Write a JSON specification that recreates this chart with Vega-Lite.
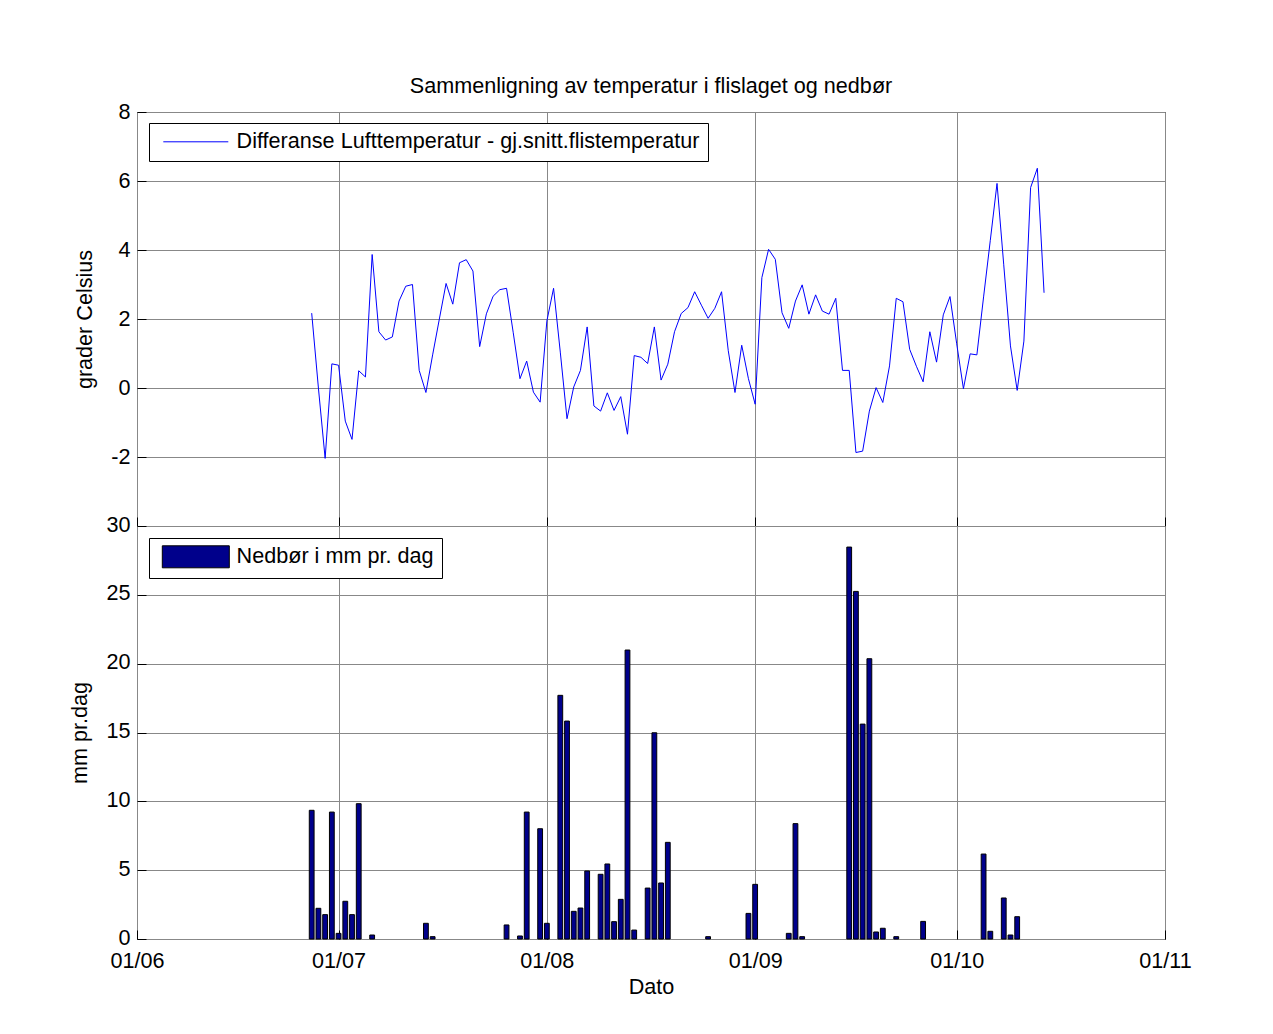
{
  "$schema": "https://vega.github.io/schema/vega-lite/v6.json",
  "background": "white",
  "autosize": {"type": "pad"},
  "padding": {"left": 69, "top": 75, "right": 10, "bottom": 10},
  "title": {"text": "Sammenligning av temperatur i flislaget og nedbør", "font": "Liberation Sans", "fontSize": 21.6, "fontWeight": "normal", "color": "black", "anchor": "middle", "frame": "group", "offset": 3},
  "config": {
    "font": "Liberation Sans",
    "view": {"stroke": "black", "strokeWidth": 1},
    "axis": {"labelFont": "Liberation Sans", "labelFontSize": 21.6, "labelColor": "black", "titleFont": "Liberation Sans", "titleFontSize": 21.6, "titleFontWeight": "normal", "titleColor": "black", "gridColor": "#888888", "gridWidth": 1, "gridOpacity": 1, "domain": false, "ticks": true, "tickSize": -9, "tickColor": "black", "tickWidth": 1}
  },
  "spacing": 0,
  "bounds": "flush",
  "datasets": {
    "temp": [
      {"date": "2010-06-27", "diff": 2.17}, {"date": "2010-06-28", "diff": 0.0}, {"date": "2010-06-29", "diff": -2.04}, {"date": "2010-06-30", "diff": 0.70},
      {"date": "2010-07-01", "diff": 0.66}, {"date": "2010-07-02", "diff": -0.96}, {"date": "2010-07-03", "diff": -1.49}, {"date": "2010-07-04", "diff": 0.50},
      {"date": "2010-07-05", "diff": 0.32}, {"date": "2010-07-06", "diff": 3.87}, {"date": "2010-07-07", "diff": 1.63}, {"date": "2010-07-08", "diff": 1.39},
      {"date": "2010-07-09", "diff": 1.48}, {"date": "2010-07-10", "diff": 2.52}, {"date": "2010-07-11", "diff": 2.95}, {"date": "2010-07-12", "diff": 3.00},
      {"date": "2010-07-13", "diff": 0.51}, {"date": "2010-07-14", "diff": -0.13}, {"date": "2010-07-15", "diff": 0.96}, {"date": "2010-07-16", "diff": 2.0},
      {"date": "2010-07-17", "diff": 3.03}, {"date": "2010-07-18", "diff": 2.43}, {"date": "2010-07-19", "diff": 3.63}, {"date": "2010-07-20", "diff": 3.72},
      {"date": "2010-07-21", "diff": 3.39}, {"date": "2010-07-22", "diff": 1.20}, {"date": "2010-07-23", "diff": 2.15}, {"date": "2010-07-24", "diff": 2.66},
      {"date": "2010-07-25", "diff": 2.85}, {"date": "2010-07-26", "diff": 2.89}, {"date": "2010-07-27", "diff": 1.60}, {"date": "2010-07-28", "diff": 0.27},
      {"date": "2010-07-29", "diff": 0.78}, {"date": "2010-07-30", "diff": -0.12}, {"date": "2010-07-31", "diff": -0.41}, {"date": "2010-08-01", "diff": 1.94},
      {"date": "2010-08-02", "diff": 2.89}, {"date": "2010-08-03", "diff": 1.04}, {"date": "2010-08-04", "diff": -0.89}, {"date": "2010-08-05", "diff": 0.03},
      {"date": "2010-08-06", "diff": 0.51}, {"date": "2010-08-07", "diff": 1.77}, {"date": "2010-08-08", "diff": -0.52}, {"date": "2010-08-09", "diff": -0.67},
      {"date": "2010-08-10", "diff": -0.14}, {"date": "2010-08-11", "diff": -0.65}, {"date": "2010-08-12", "diff": -0.25}, {"date": "2010-08-13", "diff": -1.34},
      {"date": "2010-08-14", "diff": 0.94}, {"date": "2010-08-15", "diff": 0.89}, {"date": "2010-08-16", "diff": 0.71}, {"date": "2010-08-17", "diff": 1.77},
      {"date": "2010-08-18", "diff": 0.23}, {"date": "2010-08-19", "diff": 0.69}, {"date": "2010-08-20", "diff": 1.63}, {"date": "2010-08-21", "diff": 2.16},
      {"date": "2010-08-22", "diff": 2.33}, {"date": "2010-08-23", "diff": 2.79}, {"date": "2010-08-24", "diff": 2.40}, {"date": "2010-08-25", "diff": 2.02},
      {"date": "2010-08-26", "diff": 2.31}, {"date": "2010-08-27", "diff": 2.79}, {"date": "2010-08-28", "diff": 1.08}, {"date": "2010-08-29", "diff": -0.13},
      {"date": "2010-08-30", "diff": 1.24}, {"date": "2010-08-31", "diff": 0.27}, {"date": "2010-09-01", "diff": -0.47}, {"date": "2010-09-02", "diff": 3.20},
      {"date": "2010-09-03", "diff": 4.02}, {"date": "2010-09-04", "diff": 3.73}, {"date": "2010-09-05", "diff": 2.18}, {"date": "2010-09-06", "diff": 1.73},
      {"date": "2010-09-07", "diff": 2.52}, {"date": "2010-09-08", "diff": 2.99}, {"date": "2010-09-09", "diff": 2.14}, {"date": "2010-09-10", "diff": 2.70},
      {"date": "2010-09-11", "diff": 2.23}, {"date": "2010-09-12", "diff": 2.14}, {"date": "2010-09-13", "diff": 2.60}, {"date": "2010-09-14", "diff": 0.51},
      {"date": "2010-09-15", "diff": 0.51}, {"date": "2010-09-16", "diff": -1.87}, {"date": "2010-09-17", "diff": -1.83}, {"date": "2010-09-18", "diff": -0.67},
      {"date": "2010-09-19", "diff": 0.01}, {"date": "2010-09-20", "diff": -0.42}, {"date": "2010-09-21", "diff": 0.64}, {"date": "2010-09-22", "diff": 2.60},
      {"date": "2010-09-23", "diff": 2.50}, {"date": "2010-09-24", "diff": 1.12}, {"date": "2010-09-25", "diff": 0.63}, {"date": "2010-09-26", "diff": 0.18},
      {"date": "2010-09-27", "diff": 1.63}, {"date": "2010-09-28", "diff": 0.75}, {"date": "2010-09-29", "diff": 2.12}, {"date": "2010-09-30", "diff": 2.65},
      {"date": "2010-10-01", "diff": 1.28}, {"date": "2010-10-02", "diff": -0.02}, {"date": "2010-10-03", "diff": 0.99}, {"date": "2010-10-04", "diff": 0.96},
      {"date": "2010-10-05", "diff": 2.64}, {"date": "2010-10-06", "diff": 4.28}, {"date": "2010-10-07", "diff": 5.93}, {"date": "2010-10-08", "diff": 3.57},
      {"date": "2010-10-09", "diff": 1.22}, {"date": "2010-10-10", "diff": -0.07}, {"date": "2010-10-11", "diff": 1.36}, {"date": "2010-10-12", "diff": 5.81},
      {"date": "2010-10-13", "diff": 6.37}, {"date": "2010-10-14", "diff": 2.76}
    ],
    "rain": [
      {"date": "2010-06-27", "mm": 9.35}, {"date": "2010-06-28", "mm": 2.23}, {"date": "2010-06-29", "mm": 1.77}, {"date": "2010-06-30", "mm": 9.22},
      {"date": "2010-07-01", "mm": 0.41}, {"date": "2010-07-02", "mm": 2.74}, {"date": "2010-07-03", "mm": 1.77}, {"date": "2010-07-04", "mm": 9.83},
      {"date": "2010-07-06", "mm": 0.29}, {"date": "2010-07-14", "mm": 1.14}, {"date": "2010-07-15", "mm": 0.17}, {"date": "2010-07-26", "mm": 1.02},
      {"date": "2010-07-28", "mm": 0.22}, {"date": "2010-07-29", "mm": 9.22}, {"date": "2010-07-31", "mm": 8.01}, {"date": "2010-08-01", "mm": 1.14},
      {"date": "2010-08-03", "mm": 17.70}, {"date": "2010-08-04", "mm": 15.83}, {"date": "2010-08-05", "mm": 2.01}, {"date": "2010-08-06", "mm": 2.25},
      {"date": "2010-08-07", "mm": 4.94}, {"date": "2010-08-09", "mm": 4.70}, {"date": "2010-08-10", "mm": 5.45}, {"date": "2010-08-11", "mm": 1.26},
      {"date": "2010-08-12", "mm": 2.88}, {"date": "2010-08-13", "mm": 20.99}, {"date": "2010-08-14", "mm": 0.65}, {"date": "2010-08-16", "mm": 3.70},
      {"date": "2010-08-17", "mm": 14.98}, {"date": "2010-08-18", "mm": 4.07}, {"date": "2010-08-19", "mm": 7.02}, {"date": "2010-08-25", "mm": 0.17},
      {"date": "2010-08-31", "mm": 1.86}, {"date": "2010-09-01", "mm": 3.97}, {"date": "2010-09-06", "mm": 0.41}, {"date": "2010-09-07", "mm": 8.38},
      {"date": "2010-09-08", "mm": 0.17}, {"date": "2010-09-15", "mm": 28.47}, {"date": "2010-09-16", "mm": 25.25}, {"date": "2010-09-17", "mm": 15.61},
      {"date": "2010-09-18", "mm": 20.36}, {"date": "2010-09-19", "mm": 0.51}, {"date": "2010-09-20", "mm": 0.78}, {"date": "2010-09-22", "mm": 0.17},
      {"date": "2010-09-26", "mm": 1.28}, {"date": "2010-10-05", "mm": 6.17}, {"date": "2010-10-06", "mm": 0.56}, {"date": "2010-10-08", "mm": 2.98},
      {"date": "2010-10-09", "mm": 0.29}, {"date": "2010-10-10", "mm": 1.62}
    ]
  },
  "resolve": {"scale": {"stroke": "independent", "fill": "independent"}, "legend": {"stroke": "independent", "fill": "independent"}},
  "vconcat": [
    {
      "width": 1028,
      "height": 414,
      "data": {"name": "temp"},
      "mark": {"type": "line", "strokeWidth": 1},
      "encoding": {
        "x": {"field": "date", "type": "temporal",
          "scale": {"type": "utc", "padding": 0, "domain": [{"year": 2010, "month": 6, "date": 1, "utc": true}, {"year": 2010, "month": 11, "date": 1, "utc": true}]},
          "axis": {"labels": false, "title": null, "grid": true, "labelPadding": 0, "minExtent": 0, "maxExtent": 0,
            "values": [{"year": 2010, "month": 6, "date": 1, "utc": true}, {"year": 2010, "month": 7, "date": 1, "utc": true}, {"year": 2010, "month": 8, "date": 1, "utc": true}, {"year": 2010, "month": 9, "date": 1, "utc": true}, {"year": 2010, "month": 10, "date": 1, "utc": true}, {"year": 2010, "month": 11, "date": 1, "utc": true}]}},
        "y": {"field": "diff", "type": "quantitative", "scale": {"domain": [-4, 8], "nice": false, "zero": false},
          "axis": {"title": "grader Celsius", "values": [-2, 0, 2, 4, 6, 8], "labelExpr": "datum.value < 0 ? '-' + abs(datum.value) : '' + datum.value", "labelPadding": 16, "titlePadding": 14, "grid": true}},
        "stroke": {"datum": "Differanse Lufttemperatur - gj.snitt.flistemperatur", "type": "nominal", "scale": {"range": ["#0000ff"]},
          "legend": {"orient": "none", "legendX": 12, "legendY": 11, "title": null, "symbolType": "M-3.25,0H3.25", "symbolSize": 400, "symbolStrokeWidth": 1, "symbolOffset": 28, "labelOffset": 30, "labelFont": "Liberation Sans", "labelFontSize": 21.6, "labelColor": "black", "labelLimit": 1000, "strokeColor": "black", "fillColor": "white", "padding": 8}}
      }
    },
    {
      "width": 1028,
      "height": 413,
      "data": {"name": "rain"},
      "mark": {"type": "bar", "size": 4.8, "stroke": "black", "strokeWidth": 1},
      "encoding": {
        "x": {"field": "date", "type": "temporal",
          "scale": {"type": "utc", "padding": 0, "domain": [{"year": 2010, "month": 6, "date": 1, "utc": true}, {"year": 2010, "month": 11, "date": 1, "utc": true}]},
          "axis": {"title": "Dato", "format": "%d/%m", "grid": true, "labelPadding": 20, "titlePadding": 5, "labelFlush": false, "labelOverlap": false,
            "values": [{"year": 2010, "month": 6, "date": 1, "utc": true}, {"year": 2010, "month": 7, "date": 1, "utc": true}, {"year": 2010, "month": 8, "date": 1, "utc": true}, {"year": 2010, "month": 9, "date": 1, "utc": true}, {"year": 2010, "month": 10, "date": 1, "utc": true}, {"year": 2010, "month": 11, "date": 1, "utc": true}]}},
        "y": {"field": "mm", "type": "quantitative", "scale": {"domain": [0, 30], "nice": false},
          "axis": {"title": "mm pr.dag", "values": [0, 5, 10, 15, 20, 25, 30], "labelPadding": 16, "labelOffset": -1, "titlePadding": 14, "grid": true}},
        "fill": {"datum": "Nedbør i mm pr. dag", "type": "nominal", "scale": {"range": ["#00008b"]},
          "legend": {"orient": "none", "legendX": 12, "legendY": 12, "title": null, "symbolType": "M-3.35,-1.1H3.35V1.1H-3.35Z", "symbolSize": 400, "symbolStrokeColor": "black", "symbolStrokeWidth": 1, "symbolOffset": 28, "labelOffset": 30, "labelFont": "Liberation Sans", "labelFontSize": 21.6, "labelColor": "black", "labelLimit": 1000, "strokeColor": "black", "fillColor": "white", "padding": 8}}
      }
    }
  ]
}
